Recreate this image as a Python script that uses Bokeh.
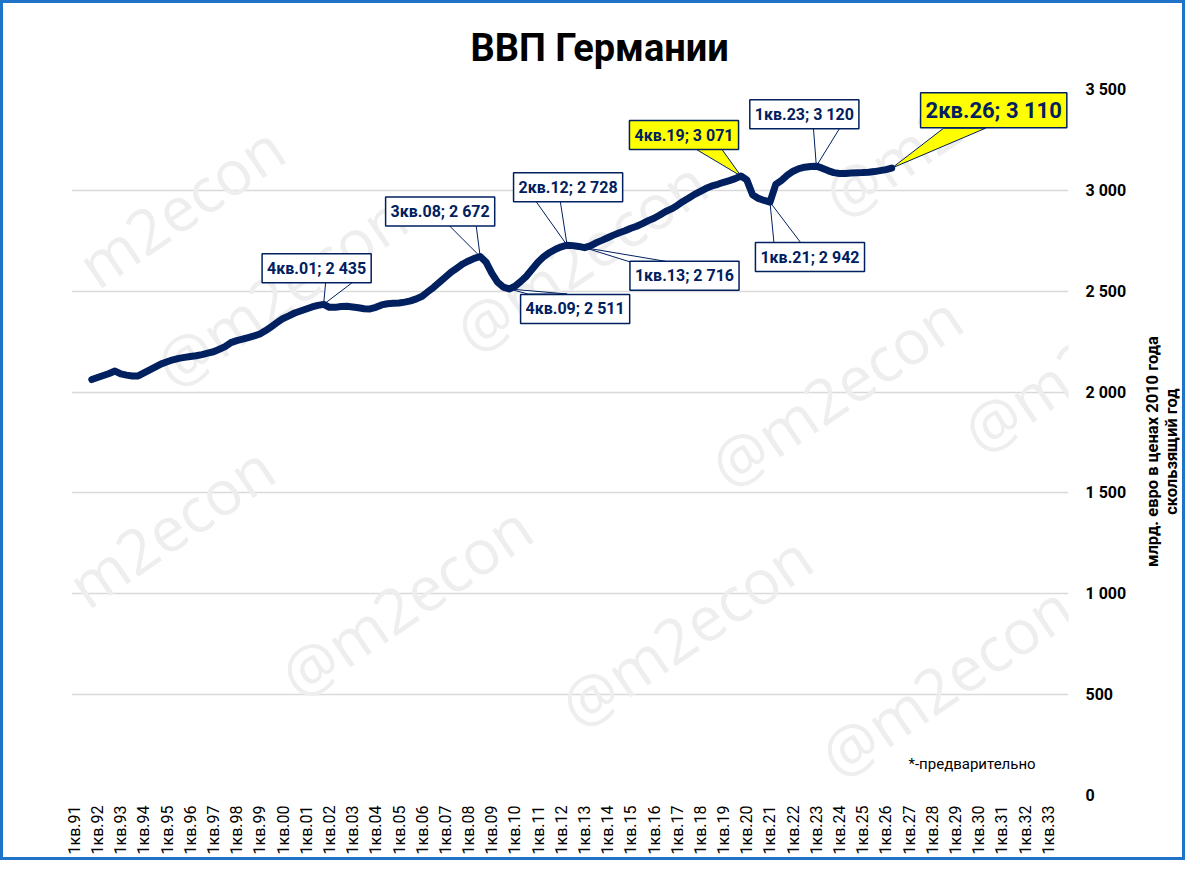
import math
from bokeh.plotting import figure
from bokeh.layouts import row
from bokeh.models import Range1d, FixedTicker, Label
from bokeh.embed import file_html
from bokeh.resources import INLINE

# ---------------- data ----------------
FIRST_QUARTER = "4кв.91"   # first value of the rolling-year series
GDP = [
    2062,                    # 1991 Q4
    2072, 2082, 2092, 2104,  # 1992
    2090, 2084, 2080, 2080,  # 1993
    2095, 2110, 2125, 2140,  # 1994
    2150, 2160, 2167, 2172,  # 1995
    2176, 2180, 2186, 2193,  # 1996
    2200, 2212, 2225, 2245,  # 1997
    2255, 2262, 2270, 2278,  # 1998
    2288, 2305, 2325, 2345,  # 1999
    2365, 2378, 2392, 2402,  # 2000
    2412, 2422, 2430, 2435,  # 2001
    2420, 2420, 2424, 2425,  # 2002
    2422, 2418, 2413, 2412,  # 2003
    2420, 2432, 2438, 2440,  # 2004
    2442, 2446, 2452, 2462,  # 2005
    2475, 2498, 2520, 2545,  # 2006
    2570, 2595, 2615, 2635,  # 2007
    2650, 2663, 2672, 2645,  # 2008
    2590, 2545, 2520, 2511,  # 2009
    2525, 2548, 2575, 2610,  # 2010
    2645, 2672, 2692, 2708,  # 2011
    2720, 2728, 2726, 2722,  # 2012
    2716, 2725, 2740, 2752,  # 2013
    2765, 2778, 2790, 2800,  # 2014
    2812, 2822, 2835, 2850,  # 2015
    2862, 2878, 2895, 2908,  # 2016
    2925, 2945, 2962, 2980,  # 2017
    2995, 3010, 3022, 3030,  # 2018
    3040, 3048, 3058, 3071,  # 2019
    3052, 2978, 2960, 2950,  # 2020
    2942, 3030, 3050, 3075,  # 2021
    3095, 3108, 3115, 3118,  # 2022
    3120, 3110, 3098, 3088,  # 2023
    3084, 3084, 3086, 3087,  # 2024
    3088, 3090, 3093, 3098,  # 2025
    3103, 3110,              # 2026
]
N_CATEGORIES = 172  # 1кв.91 ... 4кв.33
X_TICK_LABELS = [
    "1кв.91", "1кв.92", "1кв.93", "1кв.94", "1кв.95", "1кв.96", "1кв.97",
    "1кв.98", "1кв.99", "1кв.00", "1кв.01", "1кв.02", "1кв.03", "1кв.04",
    "1кв.05", "1кв.06", "1кв.07", "1кв.08", "1кв.09", "1кв.10", "1кв.11",
    "1кв.12", "1кв.13", "1кв.14", "1кв.15", "1кв.16", "1кв.17", "1кв.18",
    "1кв.19", "1кв.20", "1кв.21", "1кв.22", "1кв.23", "1кв.24", "1кв.25",
    "1кв.26", "1кв.27", "1кв.28", "1кв.29", "1кв.30", "1кв.31", "1кв.32",
    "1кв.33",
]
Y_TICKS = [0, 500, 1000, 1500, 2000, 2500, 3000, 3500]
Y_TICK_LABELS = ["0", "500", "1 000", "1 500", "2 000", "2 500", "3 000", "3 500"]
CALLOUT_QUARTERS = ["4кв.01", "3кв.08", "4кв.09", "2кв.12", "1кв.13",
                    "4кв.19", "1кв.21", "1кв.23", "2кв.26"]
TITLE = "ВВП Германии"
Y_LABEL_LINES = ["млрд. евро в ценах 2010 года", "скользящий год"]
FOOTNOTE = "*-предварительно"
# watermark pieces visible inside the plot area (picture-pixel centres)
WATERMARKS = [
    ("m2econ", 180, 205), ("@m2econ", 280, 290), ("@m2econ", 580, 255),
    ("@m2e", 905, 150), ("m2econ", 170, 525), ("@m2econ", 835, 390),
    ("@m2", 1030, 395), ("@m2econ", 405, 600), ("@m2econ", 685, 630),
    ("@m2econ", 945, 680),
]


def q_index(q):
    quarter = int(q[0])
    yy = int(q[-2:])
    year = 1900 + yy if yy >= 91 else 2000 + yy
    return (year - 1991) * 4 + quarter - 1


def fmt(v):
    return f"{v:,}".replace(",", " ")


start = q_index(FIRST_QUARTER)
xs = list(range(start, start + len(GDP)))

# ---------------- geometry ----------------
FRAME_W, FRAME_H = 997, 706
BL, BR, BT, BB = 68, 60, 86, 62
TOTAL_W = 1178
TOTAL_H = BT + FRAME_H + BB
MAIN_W = BL + FRAME_W + BR
SIDE_W = TOTAL_W - MAIN_W       # narrow panel holding the axis title
XPX = N_CATEGORIES / FRAME_W    # data units per pixel
YPX = 3500 / FRAME_H
OX, OY = 3, 3                   # picture offset of the canvas
FL = OX + BL                    # frame left in picture px
FB = OY + BT + FRAME_H          # frame bottom in picture px


def xd(xabs):
    return -0.5 + (xabs - FL) * XPX


def yd(yabs):
    return (FB - yabs) * YPX


NAVY = "#002060"
FONT = "Roboto"

p = figure(frame_width=FRAME_W, frame_height=FRAME_H,
           min_border_left=BL, min_border_right=BR,
           min_border_top=BT, min_border_bottom=BB,
           x_range=Range1d(-0.5, N_CATEGORIES - 0.5),
           y_range=Range1d(0, 3500),
           y_axis_location="right",
           output_backend="svg", toolbar_location=None)
p.outline_line_color = None
p.background_fill_color = "white"
p.border_fill_color = "white"

# title
p.title.text = TITLE
p.title.align = "left"
p.title.offset = 399
p.title.standoff = 40
p.title.text_font = FONT
p.title.text_font_size = "38px"
p.title.text_font_style = "bold"
p.title.text_color = "black"

# axes
p.xaxis.ticker = FixedTicker(ticks=list(range(0, N_CATEGORIES, 4)))
p.xaxis.major_label_overrides = {i * 4: lab for i, lab in enumerate(X_TICK_LABELS)}
p.xaxis.major_label_orientation = math.pi / 2
p.xaxis.axis_line_color = None
p.xaxis.major_tick_line_color = None
p.xaxis.minor_tick_line_color = None
p.xaxis.major_tick_out = 0
p.xaxis.major_label_standoff = 10
p.xaxis.major_label_text_font = FONT
p.xaxis.major_label_text_font_size = "16px"
p.xaxis.major_label_text_color = "black"

p.yaxis.ticker = FixedTicker(ticks=Y_TICKS)
p.yaxis.major_label_overrides = dict(zip(Y_TICKS, Y_TICK_LABELS))
p.yaxis.axis_line_color = None
p.yaxis.major_tick_line_color = None
p.yaxis.minor_tick_line_color = None
p.yaxis.major_tick_out = 0
p.yaxis.major_label_standoff = 17
p.yaxis.major_label_text_font = FONT
p.yaxis.major_label_text_font_size = "16px"
p.yaxis.major_label_text_font_style = "bold"
p.yaxis.major_label_text_color = "black"

p.xgrid.visible = False
p.ygrid.ticker = FixedTicker(ticks=Y_TICKS)
p.ygrid.grid_line_color = "#D9D9D9"
p.ygrid.grid_line_width = 1.3

# watermarks
for (wt, wx, wy) in WATERMARKS:
    p.add_layout(Label(x=xd(wx), y=yd(wy), text=wt, angle=0.6,
                       text_align="center", text_baseline="middle",
                       text_font="Open Sans", text_font_size="62px",
                       text_color="#EEEEEE", level="underlay"))

# callout styles: box centre offset (px, +down), pointer base points (px), highlight, big
CALLOUT_STYLE = [
    ((-7, -36), ((2, -22), (29, -22)), False, False),
    ((-40, -45), ((-31, -31), (-4, -31)), False, False),
    ((66, 20), ((19, 5), (58, 5)), False, False),
    ((1, -58), ((-32, -45), (-7, -45)), False, False),
    ((100, 28), ((48, 15), (89, 15)), False, False),
    ((-57, -41), ((-47, -28), (-20, -28)), True, False),
    ((40, 55), ((4, 41), (31, 41)), False, False),
    ((-12, -52), ((-3, -39), (24, -39)), False, False),
    ((102, -58), ((52, -40), (94, -40)), True, True),
]

# pointers (below the line)
for q, (off, bases, hl, big) in zip(CALLOUT_QUARTERS, CALLOUT_STYLE):
    i = q_index(q)
    v = GDP[i - start]
    px = [i] + [i + b[0] * XPX for b in bases]
    py = [v] + [v - b[1] * YPX for b in bases]
    p.patch(px, py, fill_color="#FFFF00" if hl else "white",
            line_color=NAVY, line_width=1)

# series line
p.line(xs, GDP, line_color=NAVY, line_width=7, line_join="round", line_cap="round")

# callout boxes
for q, (off, bases, hl, big) in zip(CALLOUT_QUARTERS, CALLOUT_STYLE):
    i = q_index(q)
    v = GDP[i - start]
    p.add_layout(Label(x=i, y=v, x_offset=off[0], y_offset=-off[1],
                       text=f"{q}; {fmt(v)}",
                       text_align="center", text_baseline="middle",
                       text_font=FONT, text_font_style="bold",
                       text_font_size="22px" if big else "16px",
                       text_color=NAVY,
                       background_fill_color="#FFFF00" if hl else "white",
                       border_line_color=NAVY, border_line_width=1.5,
                       padding=5))

# footnote
p.add_layout(Label(x=xd(908), y=yd(763), text=FOOTNOTE, text_align="left",
                   text_baseline="middle", text_font=FONT,
                   text_font_size="15px", text_color="black"))

# ---------------- side panel with the axis title ----------------
side = figure(width=SIDE_W, height=TOTAL_H, min_border=0,
              x_range=Range1d(0, SIDE_W), y_range=Range1d(0, TOTAL_H),
              x_axis_location=None, y_axis_location=None,
              output_backend="svg", toolbar_location=None)
side.grid.visible = False
side.outline_line_color = None
side.background_fill_color = "white"
side.border_fill_color = "white"
SIDE_X0 = OX + MAIN_W            # picture x of the side panel's left edge
LABEL_X = [1151, 1170]           # picture px of each line's centre
LABEL_CENTER_Y = 441
for line, lx in zip(Y_LABEL_LINES, LABEL_X):
    side.add_layout(Label(x=lx - SIDE_X0, y=TOTAL_H - (LABEL_CENTER_Y - OY),
                          text=line, angle=math.pi / 2,
                          text_align="center", text_baseline="middle",
                          text_font=FONT, text_font_style="bold",
                          text_font_size="16.5px", text_color="black"))

layout = row(p, side)
layout.styles = {"border": "3px solid #1F73C8"}

open("out.html", "w").write(file_html(layout, INLINE))
